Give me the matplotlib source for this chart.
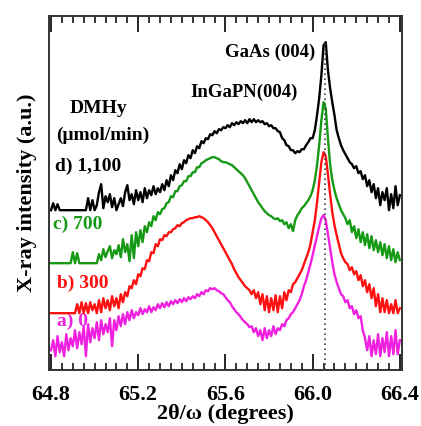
import numpy as np
import matplotlib
matplotlib.use('Agg')
import matplotlib.pyplot as plt

plt.rcParams['font.family'] = ['Liberation Serif', 'DejaVu Serif']
plt.rcParams['font.weight'] = 'bold'

# 2theta/omega grid, 0.01 deg steps
two_theta = np.round(np.arange(64.80, 66.4001, 0.01), 2)

# a) 0 umol/min (magenta), counts offset for display
a_0 = [20, 30, 14, 34, 18, 28, 14, 36, 20, 32,
       24, 40, 22, 38, 26, 44, 14, 46, 28, 42,
       32, 48, 30, 50, 36, 46, 38, 52, 24, 50,
       40, 54, 44, 56, 46, 58, 50, 60, 52, 58,
       55, 62, 56, 61, 58, 64, 58, 63, 60, 66,
       62, 67, 63, 68, 64, 69, 66, 70, 67, 71,
       68, 72, 69, 73, 71, 74, 72, 76, 74, 78,
       76, 80, 79, 82, 81, 82, 80, 79, 77, 76,
       73, 70, 68, 64, 61, 58, 56, 53, 50, 48,
       46, 43, 44, 38, 42, 34, 40, 30, 42, 32,
       40, 34, 44, 36, 42, 40, 46, 44, 50, 52,
       56, 58, 62, 66, 70, 76, 84, 90, 98, 106,
       115, 125, 134, 144, 152, 155, 150, 136, 122, 108,
       96, 88, 82, 76, 74, 68, 70, 62, 64, 56,
       60, 52, 54, 40, 32, 20, 34, 14, 30, 16,
       36, 14, 32, 18, 38, 14, 34, 16, 40, 16,
       30]

# b) 300 umol/min (red)
b_300 = [57, 57, 57, 57, 57, 57, 57, 57, 57, 57,
         57, 57, 66, 57, 68, 57, 67, 57, 68, 60,
         66, 57, 70, 58, 72, 62, 70, 60, 74, 64,
         72, 62, 76, 68, 78, 74, 84, 82, 90, 86,
         96, 94, 102, 101, 110, 109, 118, 117, 126, 124,
         131, 130, 135, 134, 138, 138, 141, 142, 145, 144,
         147, 148, 150, 151, 152, 152, 153, 153, 154, 153,
         152, 150, 148, 145, 142, 138, 134, 130, 126, 122,
         118, 114, 110, 106, 101, 97, 93, 90, 87, 84,
         82, 80, 76, 80, 72, 78, 66, 76, 60, 74,
         58, 72, 60, 75, 58, 74, 62, 78, 70, 80,
         78, 86, 88, 92, 96, 100, 106, 112, 118, 126,
         138, 150, 168, 188, 208, 218, 214, 196, 176, 158,
         145, 135, 126, 117, 112, 108, 106, 100, 103, 96,
         99, 90, 95, 84, 90, 78, 86, 72, 82, 64,
         76, 58, 72, 58, 70, 57, 66, 57, 70, 57,
         62]

# c) 700 umol/min (green)
c_700 = [107, 107, 107, 107, 107, 107, 107, 107, 107, 107,
         118, 107, 117, 107, 107, 107, 107, 107, 107, 107,
         107, 107, 116, 110, 121, 113, 119, 124, 112, 120,
         116, 125, 113, 131, 118, 126, 109, 135, 112, 138,
         124, 140, 128, 144, 138, 148, 144, 154, 150, 158,
         156, 161, 162, 167, 168, 174, 173, 179, 179, 184,
         185, 189, 189, 194, 194, 198, 198, 203, 203, 207,
         208, 210, 211, 212, 213, 213, 212, 211, 209, 208,
         208, 207, 206, 205, 203, 201, 199, 197, 195, 192,
         188, 184, 180, 176, 172, 168, 165, 162, 159, 157,
         155, 154, 152, 151, 152, 149, 150, 146, 148, 142,
         146, 139, 150, 155, 158, 162, 164, 167, 170, 174,
         180, 190, 205, 225, 250, 268, 262, 232, 206, 190,
         180, 172, 166, 160, 156, 152, 146, 150, 138, 144,
         132, 141, 128, 138, 125, 136, 122, 134, 120, 130,
         118, 128, 115, 126, 112, 124, 110, 121, 108, 118,
         110]

# d) 1,100 umol/min (black)
d_1100 = [160, 167, 160, 166, 160, 160, 160, 160, 160, 160,
          160, 160, 160, 160, 160, 160, 160, 172, 160, 170,
          160, 165, 178, 186, 162, 174, 168, 176, 163, 172,
          160, 166, 172, 164, 178, 185, 170, 176, 166, 180,
          170, 178, 168, 182, 172, 180, 175, 184, 176, 182,
          178, 186, 180, 190, 184, 195, 190, 200, 197, 206,
          201, 210, 207, 215, 212, 220, 217, 224, 222, 229,
          227, 232, 231, 236, 235, 239, 237, 241, 240, 243,
          242, 245, 243, 247, 245, 248, 246, 249, 247, 250,
          247, 251, 248, 251, 248, 250, 248, 249, 246, 247,
          244, 245, 242, 242, 239, 238, 232, 230, 225, 224,
          220, 220, 217, 219, 218, 221, 221, 225, 228, 232,
          232, 240, 255, 272, 295, 325, 328, 300, 282, 268,
          255, 240, 232, 225, 220, 216, 212, 208, 206, 202,
          204, 197, 199, 191, 195, 184, 190, 178, 186, 172,
          182, 165, 178, 170, 182, 160, 176, 162, 184, 165,
          175]

series = [(a_0, '#f020e0'), (b_300, '#ff1010'), (c_700, '#169a16'), (d_1100, 'black')]
gaas_peak = 66.057

fig = plt.figure(figsize=(4.21, 4.26), dpi=100)
ax = fig.add_axes([0.116, 0.131, 0.839, 0.831])

ax.text(64.828, 49, 'a) 0', color='#f020e0', fontsize=14, va='center', ha='left', zorder=1)
for vals, col in series:
    ax.plot(two_theta, vals, color=col, linewidth=1.7, zorder=2)
ax.vlines(gaas_peak, 0, max(d_1100), colors='#444444', linestyles=(0, (1, 2)), linewidth=1.2, zorder=3)

ax.text(66.014, 318, 'GaAs (004)', fontsize=13.5, ha='right', va='center')
ax.text(65.685, 278, 'InGaPN(004)', fontsize=13.5, ha='center', va='center')
ax.text(65.018, 262, 'DMHy', fontsize=14, ha='center', va='center')
ax.text(65.039, 235, '(\u03bcmol/min)', fontsize=14, ha='center', va='center')
ax.text(64.818, 204, 'd) 1,100', fontsize=14, ha='left', va='center')
ax.text(64.809, 146, 'c) 700', color='#169a16', fontsize=14, ha='left', va='center')
ax.text(64.828, 87, 'b) 300', color='#ff1010', fontsize=14, ha='left', va='center')

ax.set_xlim(64.79, 66.41)
ax.set_ylim(0, 354)
ax.set_xticks([64.8, 65.2, 65.6, 66.0, 66.4])
ax.set_xticklabels(['64.8', '65.2', '65.6', '66.0', '66.4'])
ax.set_xticks(np.arange(64.80, 66.41, 0.05), minor=True)
ax.set_yticks([])
ax.tick_params(axis='x', which='both', direction='in', top=True, bottom=True, labelsize=16, pad=11)
ax.tick_params(axis='x', which='major', length=11.5, width=1.2)
ax.tick_params(axis='x', which='minor', length=5, width=1.1)
for s in ax.spines.values():
    s.set_linewidth(1.4)
    s.set_color('#333333')

ax.set_xlabel('2\u03b8/\u03c9 (degrees)', fontsize=16, fontweight='bold')
ax.xaxis.set_label_coords(0.5, -0.095)
ax.set_ylabel('X-ray intensity (a.u.)', fontsize=16, fontweight='bold')
ax.yaxis.set_label_coords(-0.034, 0.5)

fig.savefig('out.png', dpi=100)
